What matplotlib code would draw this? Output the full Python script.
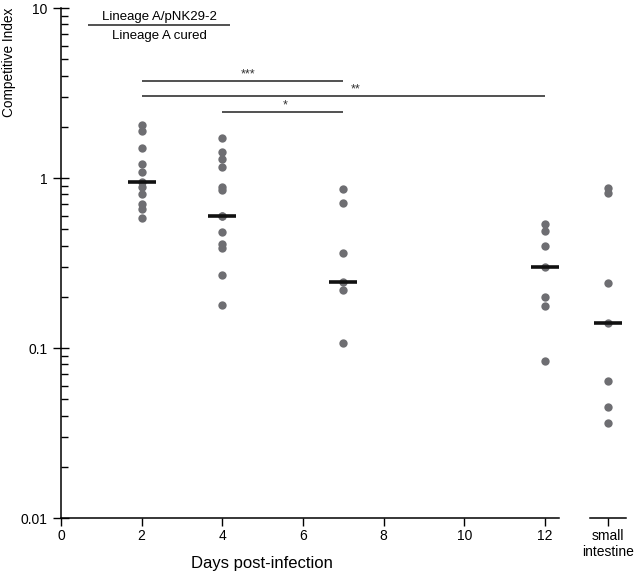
import numpy as np
import matplotlib
matplotlib.use('Agg')
import matplotlib.pyplot as plt

plt.rcParams['font.family'] = ['Liberation Sans', 'DejaVu Sans']

# x positions (days); small intestine placed on its own short axis segment
days = [2, 4, 7, 12]
si_pos = 13.56

day2 = [2.05, 1.90, 1.51, 1.21, 1.09, 0.95, 0.88, 0.81, 0.70, 0.66, 0.58]
day4 = [1.71, 1.43, 1.29, 1.16, 0.89, 0.85, 0.60, 0.60, 0.48, 0.41, 0.39, 0.27, 0.18]
day7 = [0.86, 0.71, 0.36, 0.243, 0.22, 0.107]
day12 = [0.536, 0.49, 0.40, 0.30, 0.20, 0.177, 0.084]
small_int = [0.87, 0.82, 0.24, 0.141, 0.064, 0.045, 0.036]
medians = [0.95, 0.60, 0.243, 0.30, 0.141]

# significance brackets: (start day, end day, y, label)
brackets = [(2, 7, 3.73, '***'), (2, 12, 3.04, '**'), (4, 7, 2.43, '*')]
star_x = [4.64, 7.31, 5.55]

xticks = [0, 2, 4, 6, 8, 10, 12, si_pos]
xticklabels = ['0', '2', '4', '6', '8', '10', '12', 'small\nintestine']

fig = plt.figure(figsize=(6.38, 5.79), dpi=100)
ax = fig.add_axes([61/638, 61/579, 565/638, 510/579])

groups = [day2, day4, day7, day12, small_int]
xpos = days + [si_pos]
for x, vals, m in zip(xpos, groups, medians):
    ax.plot([x]*len(vals), vals, 'o', color='#6e6e72', ms=6, mec='none', zorder=2)
    ax.hlines(m, x - 0.35, x + 0.35, color='#111111', lw=2.6, zorder=3)

for (a, b, y, lab), sx in zip(brackets, star_x):
    ax.hlines(y, a, b, color='#222222', lw=1.1)
    ax.text(sx, y * 1.01, lab, ha='center', va='bottom', fontsize=9, color='#333333')

# legend-like label
ax.hlines(7.94, 0.67, 4.19, color='#222222', lw=1.1)
ax.text(2.43, 8.9, 'Lineage A/pNK29-2', ha='center', va='center', fontsize=9.5)
ax.text(2.43, 6.85, 'Lineage A cured', ha='center', va='center', fontsize=9.5)

ax.set_yscale('log')
ax.set_ylim(0.01, 10)
ax.set_xlim(0, 14.01)
ax.set_yticks([0.01, 0.1, 1, 10])
ax.set_yticklabels(['0.01', '0.1', '1', '10'])
ax.set_xticks(xticks)
ax.set_xticklabels(xticklabels)

for s in ['top', 'right']:
    ax.spines[s].set_visible(False)
ax.spines['left'].set_linewidth(1.1)
ax.spines['bottom'].set_linewidth(1.1)
ax.spines['bottom'].set_bounds(0, 12.35)
ax.plot([13.12, 14.01], [0.01, 0.01], color='black', lw=1.1, clip_on=False)

ax.tick_params(axis='y', which='major', direction='inout', length=12, width=1, labelsize=10)
ax.tick_params(axis='y', which='minor', direction='in', length=5, width=1)
ax.tick_params(axis='x', direction='out', length=6, width=1, labelsize=10, pad=2)

ax.set_xlabel('Days post-infection', fontsize=12)
ax.xaxis.set_label_coords(0.356, -0.074)
ax.set_ylabel('Competitive Index', fontsize=9.8)
ax.yaxis.set_label_coords(-0.08, 0.893)

plt.savefig('out.png', dpi=100)
